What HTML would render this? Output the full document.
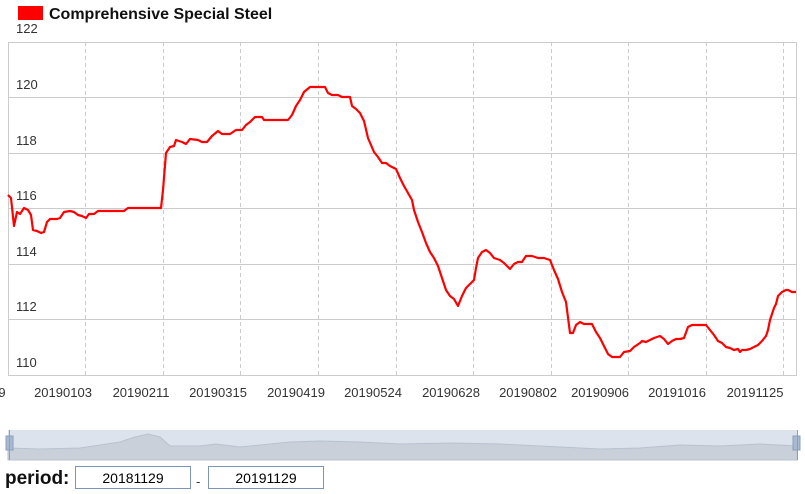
<!DOCTYPE html>
<html><head><meta charset="utf-8"><style>
body{margin:0;width:805px;height:494px;background:#fff;overflow:hidden;font-family:"Liberation Sans",sans-serif;position:relative}
.inp{position:absolute;top:466px;height:23px;border:1px solid #7a95b5;font-size:14px;text-align:center;line-height:23px;color:#000;box-sizing:border-box}
</style></head><body>
<svg width="805" height="494" style="position:absolute;left:0;top:0" font-family="Liberation Sans, sans-serif">
<rect x="18" y="6" width="25" height="14" fill="#f00"/>
<text x="49" y="19" font-size="16" font-weight="bold" fill="#111">Comprehensive Special Steel</text>
<g font-size="13" fill="#333">
<text x="16" y="33">122</text><text x="16" y="89">120</text><text x="16" y="145">118</text><text x="16" y="200">116</text><text x="16" y="256">114</text><text x="16" y="311">112</text><text x="16" y="367">110</text>
</g>
<g stroke="#ccc" stroke-width="1">
<line x1="8" y1="97.5" x2="797" y2="97.5"/><line x1="8" y1="153.5" x2="797" y2="153.5"/><line x1="8" y1="208.5" x2="797" y2="208.5"/><line x1="8" y1="264.5" x2="797" y2="264.5"/><line x1="8" y1="319.5" x2="797" y2="319.5"/>
</g>
<g stroke="#ccc" stroke-dasharray="4,3">
<line x1="85.5" y1="42" x2="85.5" y2="375"/><line x1="163.5" y1="42" x2="163.5" y2="375"/><line x1="240.5" y1="42" x2="240.5" y2="375"/><line x1="318.5" y1="42" x2="318.5" y2="375"/><line x1="396.5" y1="42" x2="396.5" y2="375"/><line x1="473.5" y1="42" x2="473.5" y2="375"/><line x1="551.5" y1="42" x2="551.5" y2="375"/><line x1="628.5" y1="42" x2="628.5" y2="375"/><line x1="706.5" y1="42" x2="706.5" y2="375"/><line x1="783.5" y1="42" x2="783.5" y2="375"/>
</g>
<rect x="8.5" y="42.5" width="788" height="333" fill="none" stroke="#ccc"/>
<g font-size="13" fill="#333" text-anchor="middle">
<text x="2" y="397">9</text><text x="63" y="397">20190103</text><text x="141" y="397">20190211</text><text x="218" y="397">20190315</text><text x="296" y="397">20190419</text><text x="373" y="397">20190524</text><text x="451" y="397">20190628</text><text x="528" y="397">20190802</text><text x="600" y="397">20190906</text><text x="677" y="397">20191016</text><text x="755" y="397">20191125</text>
</g>
<polyline fill="none" stroke="#f00" stroke-width="2.2" stroke-linejoin="round" points="8,195 11,198 14,226 17,212 20,214 24,208 28,210 31,215 33,230 37,231 41,233 44,232 47,222 50,219 57,219 60,218 64,212 70,211 74,212 78,215 82,216 86,218 89,214 94,214 98,211 124,211 128,208 161,208 163,190 166,153 170,147 174,146 176,140 182,142 186,144 190,139 198,140 202,142 207,142 212,136 218,131 222,134 230,134 236,130 242,130 246,125 250,122 255,117 262,117 264,120 288,120 292,115 296,106 300,100 304,92 310,87 325,87 328,93 332,95 338,95 342,97 350,97 352,106 356,109 360,113 364,121 368,138 374,152 378,157 382,163 386,163 390,166 396,169 400,178 404,186 408,193 412,200 414,210 418,222 422,232 426,243 430,252 434,258 438,266 442,278 446,290 450,296 454,299 458,306 462,296 466,288 470,284 474,280 476,268 478,258 482,252 486,250 490,253 494,258 500,260 504,263 510,269 514,264 518,262 522,262 526,256 532,256 538,258 544,258 550,260 554,270 558,279 562,292 566,302 570,333 573,333 576,325 580,322 584,324 592,324 596,332 600,338 604,346 608,354 612,357 620,357 624,352 630,351 634,347 640,343 642,341 646,342 648,341 650,340 654,338 660,336 664,339 668,344 672,341 676,339 680,339 684,338 688,327 692,325 706,325 710,330 714,335 718,341 722,343 726,347 730,348 734,350 738,349 740,352 742,350 746,350 750,349 754,347 758,345 762,341 766,336 768,330 770,320 774,308 776,304 778,296 782,292 786,290 788,290 792,292 796,292"/>
<rect x="8" y="430" width="789" height="30" fill="#dde3ec"/>
<path d="M8,448 L40,449 L80,448 L100,445 L120,442 L135,437 L148,434 L160,437 L170,446 L200,446 L216,444 L240,447 L270,444 L290,442 L320,441 L360,442 L400,444 L450,443 L500,444 L560,447 L600,449 L640,448 L680,445 L720,446 L760,444 L797,446 L797,460 L8,460Z" fill="#c9d0da" stroke="#b8c2d0"/>
<rect x="6" y="436" width="7" height="14" fill="#a9b9cf" stroke="#8aa0bd"/>
<rect x="793" y="436" width="7" height="14" fill="#a9b9cf" stroke="#8aa0bd"/>
<line x1="9.5" y1="430" x2="9.5" y2="460" stroke="#8aa0bd"/>
<line x1="797.5" y1="430" x2="797.5" y2="460" stroke="#8aa0bd"/>
<text x="5" y="484" font-size="19" font-weight="bold" fill="#111">period:</text>
<text x="196" y="486" font-size="13" fill="#333">-</text>
</svg>
<div class="inp" style="left:75px;width:116px">20181129</div>
<div class="inp" style="left:208px;width:116px">20191129</div>
</body></html>
